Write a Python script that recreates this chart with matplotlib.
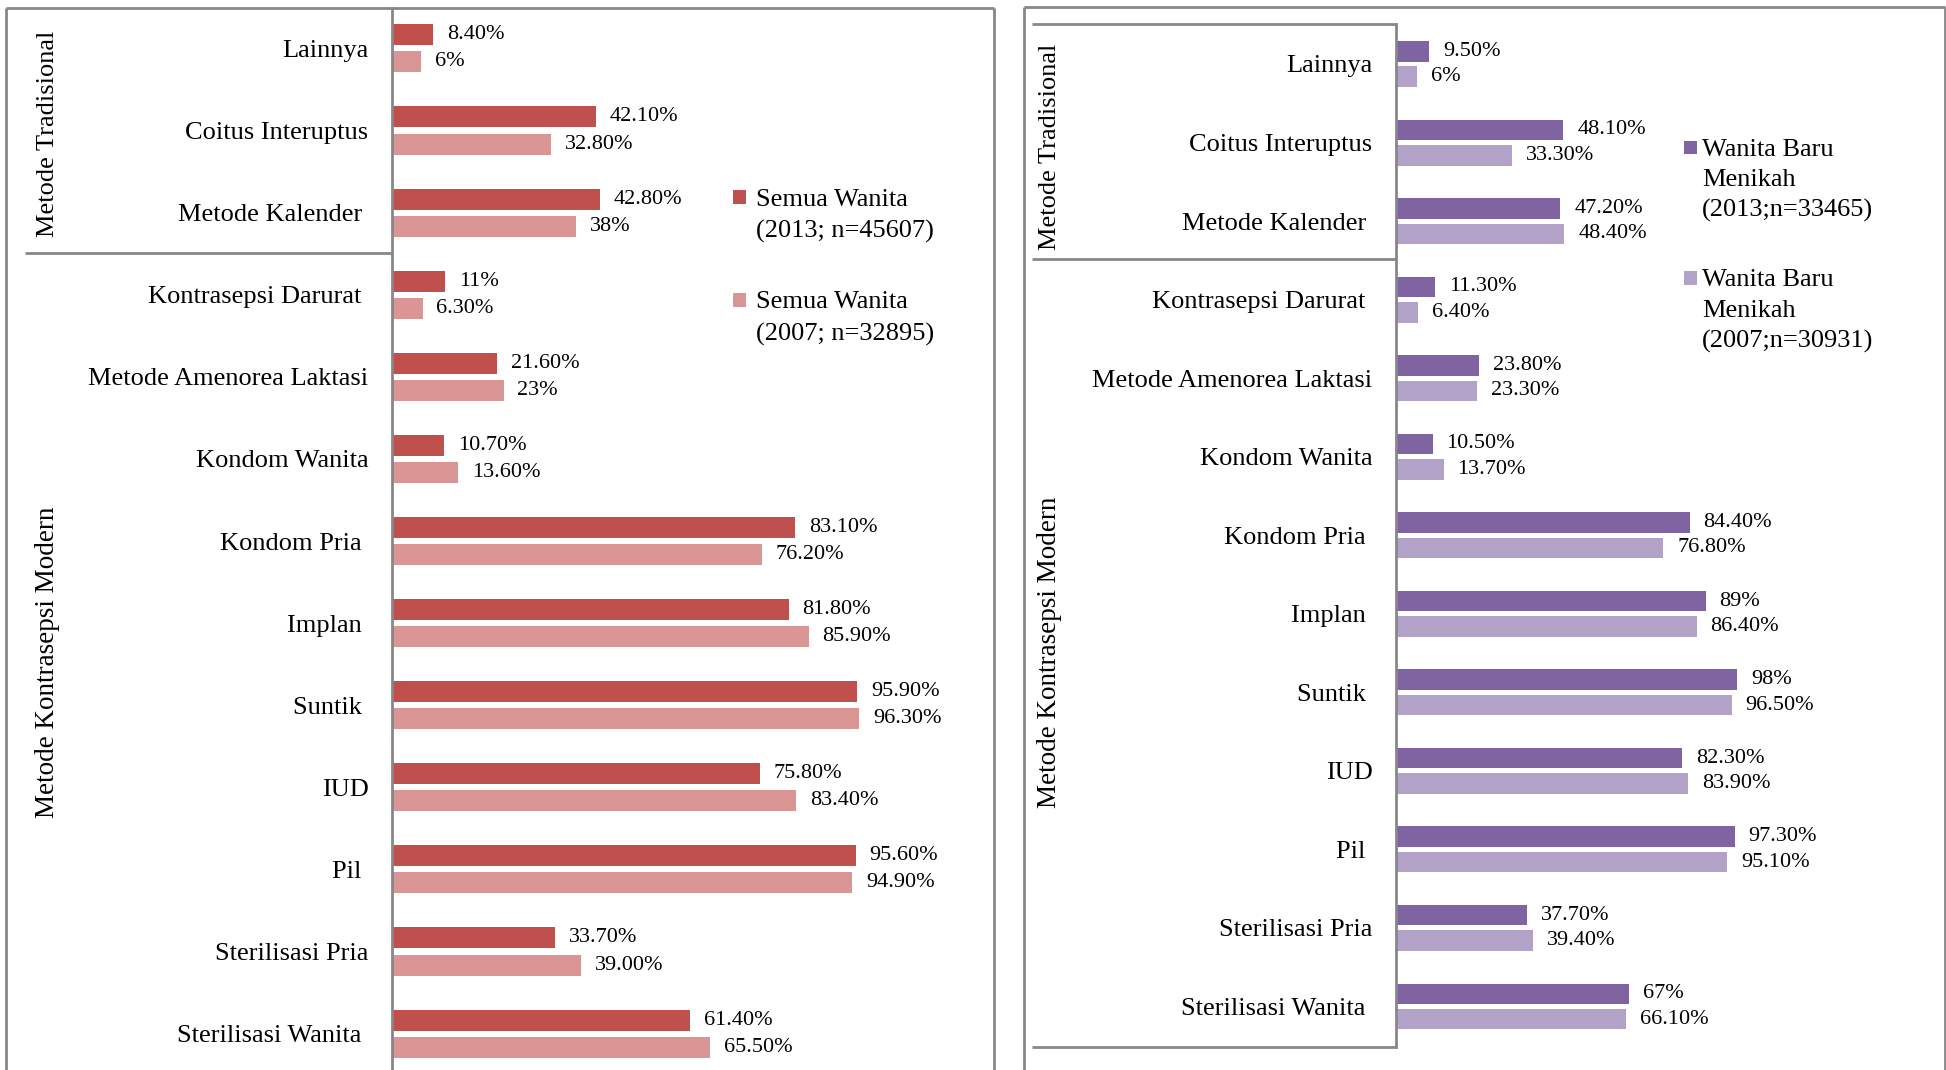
import numpy as np
import matplotlib.pyplot as plt
from matplotlib.lines import Line2D
from matplotlib.patches import Rectangle

# ukuran gambar dalam piksel
W, H = 1946, 1070

plt.rcParams['font.family'] = ['Liberation Serif', 'DejaVu Serif']

# kategori metode kontrasepsi (spasi di belakang seperti pada aslinya)
kategori = ['Lainnya', 'Coitus Interuptus', 'Metode Kalender ', 'Kontrasepsi Darurat ',
            'Metode Amenorea Laktasi', 'Kondom Wanita', 'Kondom Pria ', 'Implan ',
            'Suntik ', 'IUD', 'Pil ', 'Sterilisasi Pria', 'Sterilisasi Wanita ']

# panel kiri: semua wanita
semua_2013 = [8.4, 42.1, 42.8, 11, 21.6, 10.7, 83.1, 81.8, 95.9, 75.8, 95.6, 33.7, 61.4]
semua_2007 = [6, 32.8, 38, 6.3, 23, 13.6, 76.2, 85.9, 96.3, 83.4, 94.9, 39.0, 65.5]
label_semua_2013 = ['8.40%', '42.10%', '42.80%', '11%', '21.60%', '10.70%', '83.10%',
                    '81.80%', '95.90%', '75.80%', '95.60%', '33.70%', '61.40%']
label_semua_2007 = ['6%', '32.80%', '38%', '6.30%', '23%', '13.60%', '76.20%',
                    '85.90%', '96.30%', '83.40%', '94.90%', '39.00%', '65.50%']

# panel kanan: wanita baru menikah
baru_2013 = [9.5, 48.1, 47.2, 11.3, 23.8, 10.5, 84.4, 89, 98, 82.3, 97.3, 37.7, 67]
baru_2007 = [6, 33.3, 48.4, 6.4, 23.3, 13.7, 76.8, 86.4, 96.5, 83.9, 95.1, 39.4, 66.1]
label_baru_2013 = ['9.50%', '48.10%', '47.20%', '11.30%', '23.80%', '10.50%', '84.40%',
                   '89%', '98%', '82.30%', '97.30%', '37.70%', '67%']
label_baru_2007 = ['6%', '33.30%', '48.40%', '6.40%', '23.30%', '13.70%', '76.80%',
                   '86.40%', '96.50%', '83.90%', '95.10%', '39.40%', '66.10%']

legend_kiri = [['Semua Wanita', '(2013; n=45607)'], ['Semua Wanita', '(2007; n=32895)']]
legend_kanan = [['Wanita Baru', 'Menikah', '(2013;n=33465)'],
                ['Wanita Baru', 'Menikah', '(2007;n=30931)']]

merah = ['#C0504D', '#D99694']
ungu = ['#8064A2', '#B3A2C7']
abu = '#878787'


def fx(x):
    return x / W


def fy(y):
    return 1 - y / H


fig = plt.figure(figsize=(W / 100, H / 100), dpi=100)


def garis(xs, ys, lw=2.0):
    fig.add_artist(Line2D([fx(v) for v in xs], [fy(v) for v in ys], color=abu, lw=lw,
                          solid_capstyle='butt'))


def panel(x_axis, x_right, y_first, step, px_per_100, d13, d07, l13, l07,
          warna, bar_h, off, spine_top, spine_bot):
    ax = fig.add_axes([fx(x_axis), 0, fx(x_right) - fx(x_axis), 1])
    y = np.arange(len(kategori))
    ax.set_ylim((H - y_first) / step, -y_first / step)
    ax.set_xlim(0, (x_right - x_axis) / px_per_100 * 100)
    ax.barh(y - off, d13, height=bar_h, color=warna[0])
    ax.barh(y + off, d07, height=bar_h, color=warna[1])
    for i in range(len(kategori)):
        ax.annotate(l13[i], (d13[i], y[i] - off), xytext=(10, 0), textcoords='offset points',
                    va='center', fontsize=16)
        ax.annotate(l07[i], (d07[i], y[i] + off), xytext=(10, 0), textcoords='offset points',
                    va='center', fontsize=16)
    ax.set_yticks(y, kategori)
    ax.set_xticks([])
    ax.tick_params(axis='y', length=0, pad=17, labelsize=19)
    for s in ['top', 'right', 'bottom']:
        ax.spines[s].set_visible(False)
    ax.spines['left'].set_color(abu)
    ax.spines['left'].set_linewidth(2)
    ax.spines['left'].set_bounds((spine_bot - y_first) / step, (spine_top - y_first) / step)
    ax.patch.set_alpha(0)
    return ax


# panel kiri
panel(392, 994, 48.4, 82.1, 485, semua_2013, semua_2007, label_semua_2013, label_semua_2007,
      merah, 0.256, 0.165, 8, 1070)
# panel kanan
panel(1396, 1945, 64, 78.54, 348, baru_2013, baru_2007, label_baru_2013, label_baru_2007,
      ungu, 0.261, 0.162, 24, 1047)

# bingkai panel
garis([6, 6], [8, 1072])
garis([6, 994], [8, 8])
garis([994, 994], [8, 1072])
garis([1024, 1024], [7, 1072])
garis([1024, 1945], [7, 7])
garis([1945, 1945], [7, 1072])

# garis kelompok kategori
garis([25, 392], [253, 253])
garis([1032, 1396], [24, 24])
garis([1032, 1396], [259, 259])
garis([1032, 1396], [1047, 1047])

# label kelompok
fig.text(fx(48), fy(134), 'Metode Tradisional', rotation=90, ha='center', va='center',
         fontsize=19)
fig.text(fx(48), fy(662), 'Metode Kontrasepsi Modern', rotation=90, ha='center',
         va='center', fontsize=19.5)
fig.text(fx(1050), fy(147), 'Metode Tradisional', rotation=90, ha='center', va='center',
         fontsize=19)
fig.text(fx(1050), fy(652), 'Metode Kontrasepsi Modern', rotation=90, ha='center',
         va='center', fontsize=19.5)

# legenda
def legenda(x_mark, x_text, y_marks, baris, warna, gap):
    for k, y0 in enumerate(y_marks):
        fig.add_artist(Rectangle((fx(x_mark), fy(y0 + 6.5)), 13 / W, 13 / H,
                                 color=warna[k], lw=0))
        for j, t in enumerate(baris[k]):
            fig.text(fx(x_text), fy(y0 + j * gap), t, ha='left', va='center_baseline',
                     fontsize=19)


legenda(733, 756, [197, 300], legend_kiri, merah, 32)
legenda(1684, 1702, [147, 278], legend_kanan, ungu, 30.5)

fig.savefig('out.png', dpi=100)
